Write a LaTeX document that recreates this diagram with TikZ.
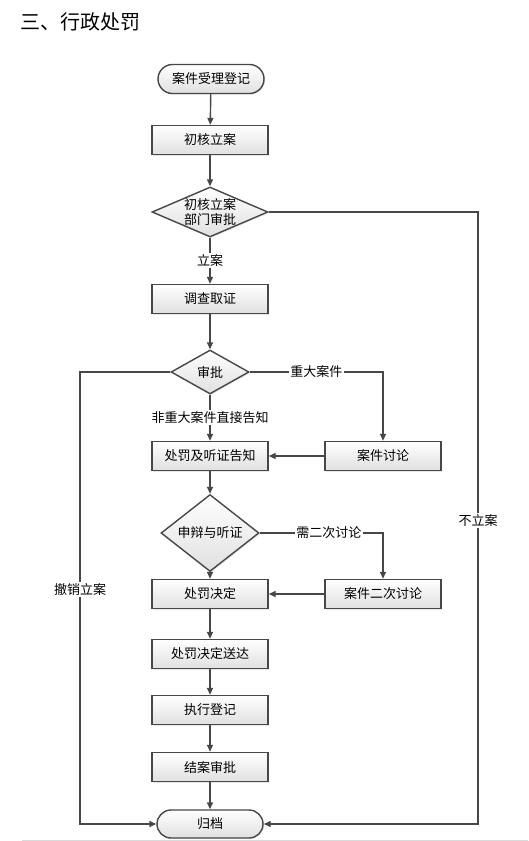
\documentclass[tikz,border=0pt]{standalone}
\usepackage{fontspec}
\setmainfont{Noto Sans CJK SC}
\usetikzlibrary{arrows.meta, positioning, shapes.geometric, shadows}
\definecolor{cline}{HTML}{474747}
\definecolor{cshade}{HTML}{E0E0E0}
\definecolor{crule}{HTML}{DADADA}
\tikzset{
  every picture/.style={line width=1.4pt},
  box/.style={draw=cline, top color=white, bottom color=cshade, minimum width=116pt, minimum height=29pt,
    inner sep=2pt, font=\fontsize{13}{15}\selectfont,
    drop shadow={opacity=0.18, shadow xshift=1.2pt, shadow yshift=-1.2pt}},
  term/.style={box, minimum width=106pt, rounded corners=14.5pt},
  decision/.style={box, diamond, inner sep=0pt},
  arrow/.style={-{Triangle[length=7pt, width=6pt]}, draw=cline},
  lbl/.style={fill=white, inner sep=1.5pt, font=\fontsize{13}{15}\selectfont},
}

\begin{document}
\begin{tikzpicture}[x=1pt, y=-1pt]
  \useasboundingbox (0,0) rectangle (528,841);
  \node[anchor=west, font=\fontsize{20}{24}\selectfont] (title) at (16,22) {三、行政处罚};

  \node[term] (start) at (211,79) {案件受理登记};
  \node[box] (check) at (210,140) {初核立案};
  \node[decision, minimum width=116pt, minimum height=50pt,
    label={[name=appr1t, align=center, font=\fontsize{13}{15}\selectfont]center:初核立案\\部门审批}] (appr1) at (210,212) {};
  \node[box] (invest) at (210,299) {调查取证};
  \node[decision, minimum width=78pt, minimum height=44pt] (appr2) at (210,372) {审批};
  \node[box] (notice) at (210,456) {处罚及听证告知};
  \node[box] (discuss) at (383,456) {案件讨论};
  \node[decision, minimum width=98pt, minimum height=42pt] (hearing) at (210,533) {申辩与听证};
  \node[box] (decide) at (210,594) {处罚决定};
  \node[box] (discuss2) at (383,594) {案件二次讨论};
  \node[box] (deliver) at (210,654) {处罚决定送达};
  \node[box] (execute) at (210,710) {执行登记};
  \node[box] (close) at (210,767) {结案审批};
  \node[term, minimum height=28pt, rounded corners=14pt] (archive) at (210,824) {归档};

  \coordinate (lrail) at (80,824);
  \coordinate (rrail) at (478,824);

  % main column
  \draw[arrow] (start) -- (check);
  \draw[arrow] (check) -- (appr1);
  \draw[arrow] (appr1) -- node[lbl] {立案} (invest);
  \draw[arrow] (invest) -- (appr2);
  \draw[arrow] (appr2) -- node[lbl] {非重大案件直接告知} (notice);
  \draw[arrow] (notice) -- (hearing);
  \draw[arrow] (hearing) -- (decide);
  \draw[arrow] (decide) -- (deliver);
  \draw[arrow] (deliver) -- (execute);
  \draw[arrow] (execute) -- (close);
  \draw[arrow] (close) -- (archive);

  % side branches
  \draw[arrow] (appr2.east) -| node[lbl, pos=0.25] {重大案件} (discuss.north);
  \draw[arrow] (discuss) -- (notice);
  \draw[arrow] (hearing.east) -| node[lbl, pos=0.28] {需二次讨论} (discuss2.north);
  \draw[arrow] (discuss2) -- (decide);

  % rails to archive
  \draw[arrow] (appr2.west) -| node[lbl, pos=0.741] {撤销立案} (lrail) -- (archive.west);
  \draw[arrow] (appr1.east) -| node[lbl, pos=0.752] {不立案} (rrail) -- (archive.east);

  \draw[crule, line width=1pt] (22,840) -- (528,840);
\end{tikzpicture}
\end{document}
